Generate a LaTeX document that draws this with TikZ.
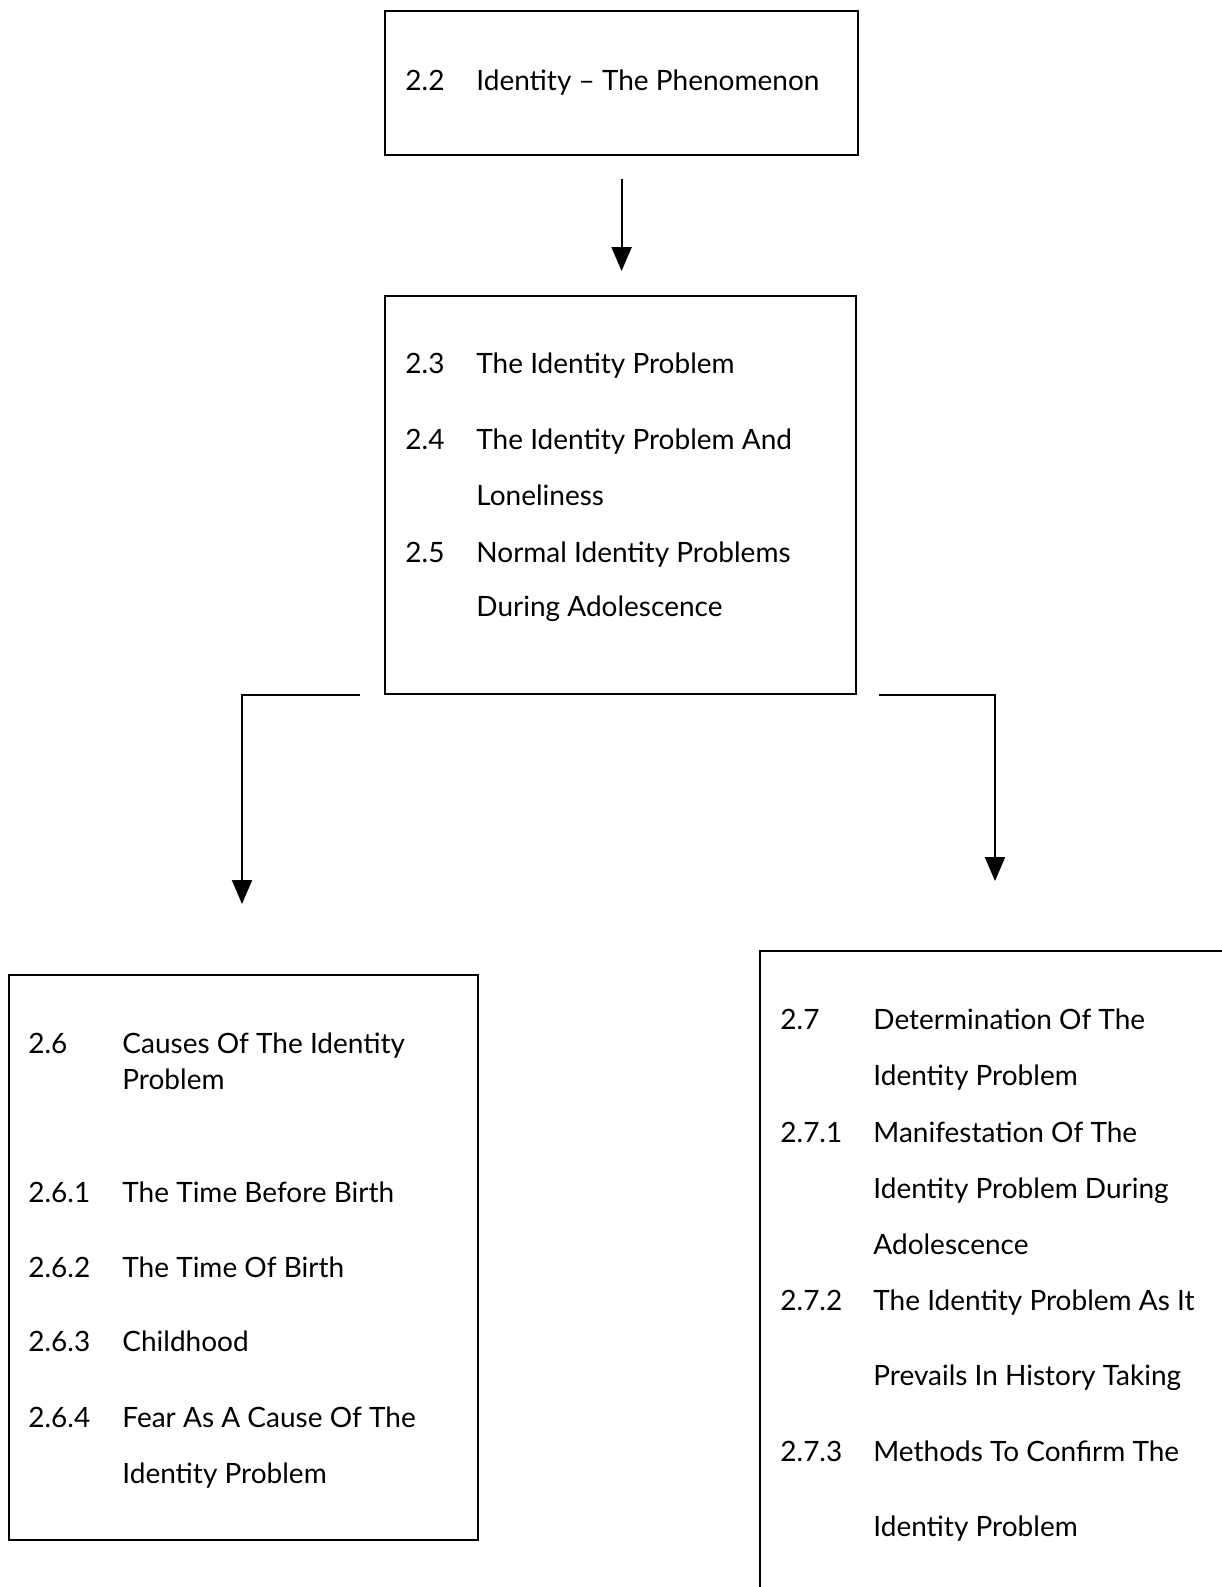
\documentclass[tikz,border=0pt]{standalone}
\usepackage{fontspec}
\setmainfont{Lato}
\usetikzlibrary{arrows.meta}
\begin{document}
\begin{tikzpicture}[x=0.5pt,y=-0.5pt,
  box/.style={draw=black, line width=1.1pt, rectangle, inner sep=0pt, anchor=north west},
  arr/.style={draw=black, line width=1.1pt, -{Triangle[length=12pt,width=10pt]}},
  lbl/.style={anchor=base west, inner sep=0pt, font=\fontsize{14}{16}\selectfont}]
\useasboundingbox (0,0) rectangle (1222,1587);
\fill[white] (0,0) rectangle (1222,1587);

% boxes
\node[box, minimum width=236.5pt, minimum height=72pt] (top) at (384,10) {};
\node[box, minimum width=235.5pt, minimum height=199pt] (mid) at (384,295) {};
\node[box, minimum width=234.5pt, minimum height=282.5pt] (left) at (8,974) {};
\node[box, minimum width=250pt, minimum height=340pt] (right) at (759,950) {};

% arrow tips
\coordinate (ltip) at (242,904);
\coordinate (rtip) at (995,881);

% connectors
\draw[arr, shorten <=11.5pt, shorten >=12pt] (top.south) -- (top.south |- mid.north);
\draw[arr] ([xshift=-12pt]mid.south west) -| (ltip);
\draw[arr] ([xshift=11pt]mid.south east) -| (rtip);

% top box text
\node[lbl] (t22n) at (405,90) {2.2};
\node[lbl] (t22) at (476,90) {Identity -- The Phenomenon};

% middle box text
\node[lbl] (m23n) at (405,373) {2.3};
\node[lbl] (m23) at (476,373) {The Identity Problem};
\node[lbl] (m24n) at (405,449) {2.4};
\node[lbl] (m24a) at (476,449) {The Identity Problem And};
\node[lbl] (m24b) at (476,505) {Loneliness};
\node[lbl] (m25n) at (405,562) {2.5};
\node[lbl] (m25a) at (476,562) {Normal Identity Problems};
\node[lbl] (m25b) at (476,616) {During Adolescence};

% left box text
\node[lbl] (l26n) at (28,1053) {2.6};
\node[lbl] (l26a) at (122,1053) {Causes Of The Identity};
\node[lbl] (l26b) at (122,1089) {Problem};
\node[lbl] (l261n) at (28,1202) {2.6.1};
\node[lbl] (l261) at (122,1202) {The Time Before Birth};
\node[lbl] (l262n) at (28,1277) {2.6.2};
\node[lbl] (l262) at (122,1277) {The Time Of Birth};
\node[lbl] (l263n) at (28,1351) {2.6.3};
\node[lbl] (l263) at (122,1351) {Childhood};
\node[lbl] (l264n) at (28,1427) {2.6.4};
\node[lbl] (l264a) at (122,1427) {Fear As A Cause Of The};
\node[lbl] (l264b) at (122,1483) {Identity Problem};

% right box text
\node[lbl] (r27n) at (780,1029) {2.7};
\node[lbl] (r27a) at (873,1029) {Determination Of The};
\node[lbl] (r27b) at (873,1085) {Identity Problem};
\node[lbl] (r271n) at (780,1142) {2.7.1};
\node[lbl] (r271a) at (873,1142) {Manifestation Of The};
\node[lbl] (r271b) at (873,1198) {Identity Problem During};
\node[lbl] (r271c) at (873,1254) {Adolescence};
\node[lbl] (r272n) at (780,1310) {2.7.2};
\node[lbl] (r272a) at (873,1310) {The Identity Problem As It};
\node[lbl] (r272b) at (873,1385) {Prevails In History Taking};
\node[lbl] (r273n) at (780,1461) {2.7.3};
\node[lbl] (r273a) at (873,1461) {Methods To Confirm The};
\node[lbl] (r273b) at (873,1536) {Identity Problem};
\end{tikzpicture}
\end{document}
